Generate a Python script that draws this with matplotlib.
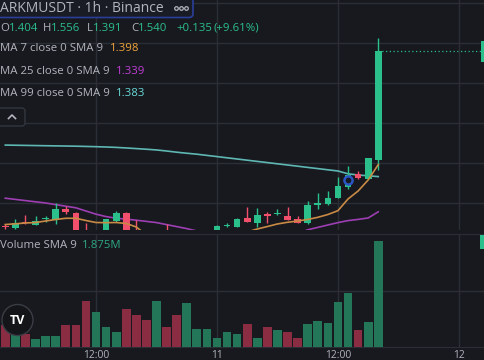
import matplotlib
matplotlib.use("Agg")
import matplotlib.pyplot as plt
from matplotlib.patches import FancyBboxPatch, Rectangle, Circle

plt.rcParams['font.family'] = ['Open Sans', 'DejaVu Sans']

# hourly candles, ARKM/USDT
opens = [1.3215, 1.3191, 1.3262, 1.3225, 1.3300, 1.3288, 1.3425, 1.3379, 1.3140, 1.3050,
         1.3120, 1.3276, 1.3370, 1.3150, 1.3060, 1.2960, 1.3050, 1.2980, 1.2910, 1.3000,
         1.3030, 1.3165, 1.3215, 1.3204, 1.3307, 1.3250, 1.3362, 1.3359, 1.3337, 1.3300,
         1.3250, 1.3475, 1.3488, 1.3562, 1.3700, 1.3862, 1.3800, 1.4040]
highs = [1.3235, 1.3296, 1.3350, 1.3341, 1.3337, 1.3496, 1.3466, 1.3387, 1.3254, 1.3155,
         1.3300, 1.3404, 1.3385, 1.3287, 1.3100, 1.3090, 1.3238, 1.3020, 1.3030, 1.3060,
         1.3160, 1.3225, 1.3254, 1.3310, 1.3450, 1.3438, 1.3388, 1.3425, 1.3450, 1.3338,
         1.3525, 1.3625, 1.3650, 1.3825, 1.3962, 1.3900, 1.4063, 1.5560]
lows = [1.3180, 1.3180, 1.3238, 1.3225, 1.3259, 1.3234, 1.3359, 1.3100, 1.3020, 1.3000,
        1.3100, 1.3265, 1.3050, 1.3020, 1.2930, 1.2940, 1.2960, 1.2880, 1.2890, 1.2980,
        1.3010, 1.3140, 1.3204, 1.3195, 1.3262, 1.3200, 1.3250, 1.3350, 1.3285, 1.3244,
        1.3238, 1.3425, 1.3475, 1.3562, 1.3675, 1.3800, 1.3800, 1.3910]
closes = [1.3205, 1.3246, 1.3250, 1.3275, 1.3312, 1.3425, 1.3384, 1.3120, 1.3060, 1.3140,
          1.3296, 1.3376, 1.3100, 1.3060, 1.2960, 1.3050, 1.2980, 1.2910, 1.3000, 1.3030,
          1.3150, 1.3215, 1.3225, 1.3300, 1.3267, 1.3350, 1.3338, 1.3366, 1.3288, 1.3250,
          1.3475, 1.3500, 1.3562, 1.3712, 1.3850, 1.3812, 1.4063, 1.5400]
volumes = [1.16, 0.63, 0.71, 0.45, 0.57, 0.61, 1.20, 1.20, 2.45, 1.88,
           1.05, 0.80, 2.02, 1.73, 1.47, 2.45, 1.05, 1.73, 2.38, 0.96,
           0.96, 0.50, 0.82, 0.71, 1.25, 0.50, 1.07, 0.91, 0.80, 0.46,
           1.25, 1.38, 1.27, 2.39, 2.89, 0.93, 1.32, 5.70]
ma7 = [1.3231, 1.3240, 1.3250, 1.3256, 1.3275, 1.3294, 1.3309, 1.3309, 1.3281, 1.3256,
       1.3254, 1.3256, 1.3244, 1.3200, 1.3100, 1.3050, 1.3030, 1.3020, 1.3020, 1.3030,
       1.3050, 1.3070, 1.3090, 1.3110, 1.3138, 1.3175, 1.3206, 1.3238, 1.3259, 1.3275,
       1.3294, 1.3321, 1.3356, 1.3404, 1.3550, 1.3650, 1.3788, 1.3980]
ma25 = [1.3560, 1.3545, 1.3530, 1.3515, 1.3500, 1.3480, 1.3460, 1.3440, 1.3400, 1.3360,
        1.3330, 1.3310, 1.3298, 1.3285, 1.3270, 1.3255, 1.3230, 1.3205, 1.3180, 1.3150,
        1.3120, 1.3100, 1.3090, 1.3080, 1.3080, 1.3080, 1.3085, 1.3090, 1.3100, 1.3115,
        1.3165, 1.3195, 1.3225, 1.3255, 1.3280, 1.3295, 1.3313, 1.3390]
ma99 = [1.4224, 1.4222, 1.4220, 1.4218, 1.4216, 1.4214, 1.4212, 1.4210, 1.4207, 1.4204,
        1.4200, 1.4195, 1.4188, 1.4180, 1.4172, 1.4163, 1.4150, 1.4135, 1.4122, 1.4110,
        1.4095, 1.4080, 1.4065, 1.4050, 1.4035, 1.4020, 1.4005, 1.3990, 1.3975, 1.3960,
        1.3945, 1.3930, 1.3915, 1.3900, 1.3865, 1.3850, 1.3840, 1.3830]
time_ticks = [9, 21, 33, 45]
time_labels = ['12:00', '11', '12:00', '12']
price_ticks = [1.35, 1.40, 1.45, 1.50, 1.55, 1.60]

BG = '#17191e'
GRID = '#2b2e36'
UP = '#2bbf8c'
DOWN = '#f14f6b'
VUP = '#237658'
VDOWN = '#8a2d42'
GRAY = '#b2b5be'
FS = 8.2

W, H = 485, 360
fig = plt.figure(figsize=(W / 100, H / 100), dpi=100)
fig.patch.set_facecolor(BG)

x_left = -5.3 / 10.08
x_right = (W - 5.3) / 10.08

# price pane
ax = fig.add_axes([0, 130 / H, 1, 230 / H])
ax.set_facecolor(BG)
ax.set_yticks(price_ticks)
ax.set_xticks(time_ticks)
ax.set_xlim(x_left, x_right)
ax.grid(True, color=GRID, lw=1)
ax.tick_params(left=False, bottom=False, labelleft=False, labelbottom=False)
for s in ax.spines.values():
    s.set_visible(False)

idx = list(range(len(opens)))
cols = [UP if c >= o else DOWN for o, c in zip(opens, closes)]
ax.vlines(idx, lows, highs, colors=cols, lw=1, zorder=3)
bottoms = [min(o, c) for o, c in zip(opens, closes)]
heights = [max(abs(c - o), 0.0012) for o, c in zip(opens, closes)]
ax.bar(idx, heights, bottom=bottoms, width=0.66, color=cols, lw=0, zorder=4)

ax.plot(idx, ma99, color='#5fb7b4', lw=1.2, zorder=2)
ax.plot(idx, ma25, color='#9d3fb3', lw=1.2, zorder=2)
ax.plot(idx, ma7, color='#c98a45', lw=1.2, zorder=5)

# last price line
ax.plot([idx[-1], x_right], [closes[-1], closes[-1]], color=UP, lw=0.9,
        ls=(0, (1, 2)), zorder=1)
# idea marker
ax.scatter([34], [1.3788], s=34, facecolors=BG, edgecolors='#2b55c4', lw=1.8, zorder=6)
ax.set_ylim(1.60375 - 230 / 800, 1.60375)

# volume pane
vax = fig.add_axes([0, 13 / H, 1, 113 / H])
vax.set_facecolor(BG)
vax.set_yticks([3])
vax.set_xticks(time_ticks)
vax.set_xlim(x_left, x_right)
vax.set_ylim(0, 113 * 0.0536)
vax.grid(True, color=GRID, lw=1)
vax.tick_params(left=False, bottom=False, labelleft=False, labelbottom=False)
for s in vax.spines.values():
    s.set_visible(False)
vax.spines['top'].set_visible(True)
vax.spines['top'].set_color(GRID)
vax.spines['bottom'].set_visible(True)
vax.spines['bottom'].set_color(GRID)
vcols = [VUP if c >= o else VDOWN for o, c in zip(opens, closes)]
vax.bar(idx, volumes, width=0.86, color=vcols, lw=0, zorder=3)

# overlay in pixel coordinates for the legend texts
ov = fig.add_axes([0, 0, 1, 1], zorder=10)
ov.set_xlim(0, W)
ov.set_ylim(H, 0)
ov.axis('off')
ov.patch.set_alpha(0)

for t, lab in zip(time_ticks, time_labels):
    ov.text(5.3 + 10.08 * t, 349.5, lab, color=GRAY, fontsize=7.4, ha='center', va='top')

ov.add_patch(FancyBboxPatch((-8, -8), 201, 25.5, boxstyle='round,pad=0,rounding_size=4',
                            fc='#191c24', ec='#2a3f9a', lw=1.2))
ov.text(0.5, 8.5, 'ARKMUSDT · 1h · Binance', color=GRAY, fontsize=10, va='center')
for cx in (176.5, 181.5, 186.5):
    ov.add_patch(Circle((cx, 8.5), 1.8, fc='none', ec=GRAY, lw=0.9))

renderer = fig.canvas.get_renderer()


def pieces(x, y, parts, size):
    for s, c in parts:
        t = ov.text(x, y, s, color=c, fontsize=size, va='center')
        bb = t.get_window_extent(renderer)
        x += bb.width


# O / H / L / C groups at their own positions
pieces(0.5, 28.5, [('O', GRAY), ('1.404', UP)], FS)
pieces(43, 28.5, [('H', GRAY), ('1.556', UP)], FS)
pieces(87, 28.5, [('L', GRAY), ('1.391', UP)], FS)
pieces(131, 28.5, [('C', GRAY), ('1.540', UP)], FS)
ov.text(176, 28.5, '+0.135', color=UP, fontsize=FS, va='center')
ov.text(214, 28.5, '(+9.61%)', color=UP, fontsize=FS, va='center')

ov.text(0.5, 48.5, 'MA 7 close 0 SMA 9', color=GRAY, fontsize=FS, va='center')
ov.text(110, 48.5, '1.398', color='#f0a43a', fontsize=FS, va='center')
ov.text(0.5, 71, 'MA 25 close 0 SMA 9', color=GRAY, fontsize=FS, va='center')
ov.text(116, 71, '1.339', color='#c13ed6', fontsize=FS, va='center')
ov.text(0.5, 93.5, 'MA 99 close 0 SMA 9', color=GRAY, fontsize=FS, va='center')
ov.text(116, 93.5, '1.383', color='#6ad8d8', fontsize=FS, va='center')

ov.add_patch(FancyBboxPatch((-5, 108), 30, 18, boxstyle='round,pad=0,rounding_size=3',
                            fc=BG, ec='#33363f', lw=1))
ov.plot([8.5, 12, 15.5], [118.5, 115, 118.5], color=GRAY, lw=1.2)

ov.text(0.5, 245, 'Volume SMA 9', color=GRAY, fontsize=FS, va='center')
ov.text(82, 245, '1.875M', color='#2ea883', fontsize=FS, va='center')

# right edge price tags
ov.add_patch(Rectangle((481.5, 41), 10, 21, fc=UP, ec='none'))
ov.add_patch(Rectangle((480.5, 235), 10, 14, fc=UP, ec='none'))

# logo
ov.add_patch(Circle((17.5, 320), 15.5, fc='#131519', ec='#3a3d45', lw=1))
ov.text(17.5, 320.5, 'TV', color='white', fontsize=9, fontweight='bold',
        ha='center', va='center')

fig.savefig('out.png', dpi=100, facecolor=BG)
